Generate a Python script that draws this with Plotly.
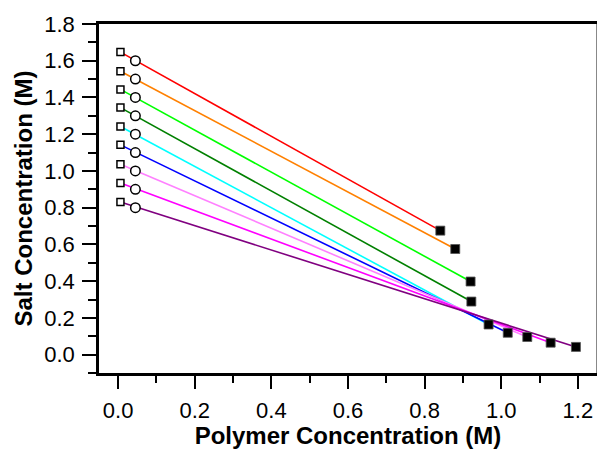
import plotly.graph_objects as go

# Tie-line data: dilute phase (open squares), feed composition (circles),
# dense phase (filled squares), one series per feed salt concentration.
line_colors = ["#FF0000", "#FF8000", "#00FF00", "#008000", "#00FFFF",
               "#0000FF", "#FF80FF", "#FF00FF", "#800080"]

feed_polymer = [0.045, 0.045, 0.045, 0.045, 0.045, 0.045, 0.045, 0.045, 0.045]
feed_salt = [1.6, 1.5, 1.4, 1.3, 1.2, 1.1, 1.0, 0.9, 0.8]

dilute_polymer = [0.006, 0.006, 0.006, 0.006, 0.006, 0.006, 0.006, 0.006, 0.006]
dilute_salt = [1.647, 1.543, 1.444, 1.345, 1.242, 1.142, 1.037, 0.934, 0.831]

dense_polymer = [0.841, 0.880, 0.920, 0.922, 0.967, 1.017, 1.068, 1.129, 1.195]
dense_salt = [0.675, 0.575, 0.398, 0.289, 0.164, 0.119, 0.096, 0.065, 0.042]

x_ticks = [0.0, 0.2, 0.4, 0.6, 0.8, 1.0, 1.2]
y_ticks = [0.0, 0.2, 0.4, 0.6, 0.8, 1.0, 1.2, 1.4, 1.6, 1.8]

fig = go.Figure()

for i, c in enumerate(line_colors):
    fig.add_trace(go.Scatter(
        x=[dilute_polymer[i], dense_polymer[i]],
        y=[dilute_salt[i], dense_salt[i]],
        mode="lines", line=dict(color=c, width=1.6),
        showlegend=False, hoverinfo="skip"))

fig.add_trace(go.Scatter(
    x=dilute_polymer, y=dilute_salt, mode="markers",
    marker=dict(symbol="square", size=7, color="white",
                line=dict(color="black", width=1.5)),
    showlegend=False))

fig.add_trace(go.Scatter(
    x=feed_polymer, y=feed_salt, mode="markers",
    marker=dict(symbol="circle", size=9.5, color="white",
                line=dict(color="black", width=1.5)),
    showlegend=False))

fig.add_trace(go.Scatter(
    x=dense_polymer, y=dense_salt, mode="markers",
    marker=dict(symbol="square", size=9, color="black",
                line=dict(color="#555555", width=0.8)),
    showlegend=False))

font_family = "Liberation Sans, Arial, sans-serif"

fig.update_xaxes(
    range=[-0.05, 1.25], tickvals=x_ticks, ticktext=[f"{v:.1f}" for v in x_ticks],
    ticks="outside", ticklen=13, tickwidth=2, tickcolor="black",
    minor=dict(dtick=0.1, tick0=0, ticks="outside", ticklen=7, tickwidth=2, tickcolor="black"),
    showline=True, linecolor="black", linewidth=2.5, mirror=True,
    showgrid=False, zeroline=False, ticklabelstandoff=3,
    tickfont=dict(family=font_family, size=22, color="black"),
    title=dict(text="<b>Polymer Concentration (M)</b>", standoff=1,
               font=dict(family=font_family, size=24, color="black")))

fig.update_yaxes(
    range=[-0.1, 1.8], tickvals=y_ticks, ticktext=[f"{v:.1f}" for v in y_ticks],
    ticks="outside", ticklen=14, tickwidth=2, tickcolor="black",
    minor=dict(dtick=0.1, tick0=0, ticks="outside", ticklen=8, tickwidth=2, tickcolor="black"),
    showline=True, linecolor="black", linewidth=2.5, mirror=False,
    showgrid=False, zeroline=False, ticklabelstandoff=3,
    tickfont=dict(family=font_family, size=22, color="black"),
    title=dict(text="<b>Salt Concentration (M)</b>", standoff=5,
               font=dict(family=font_family, size=24, color="black")))

# right-hand frame edge
fig.add_shape(type="line", xref="paper", yref="paper", x0=1, x1=1, y0=0, y1=1,
              line=dict(color="#888888", width=2))

fig.update_layout(
    width=597, height=449,
    margin=dict(l=99, r=0, t=24, b=76),
    plot_bgcolor="white", paper_bgcolor="white",
    showlegend=False)

fig.write_html("out.html")
